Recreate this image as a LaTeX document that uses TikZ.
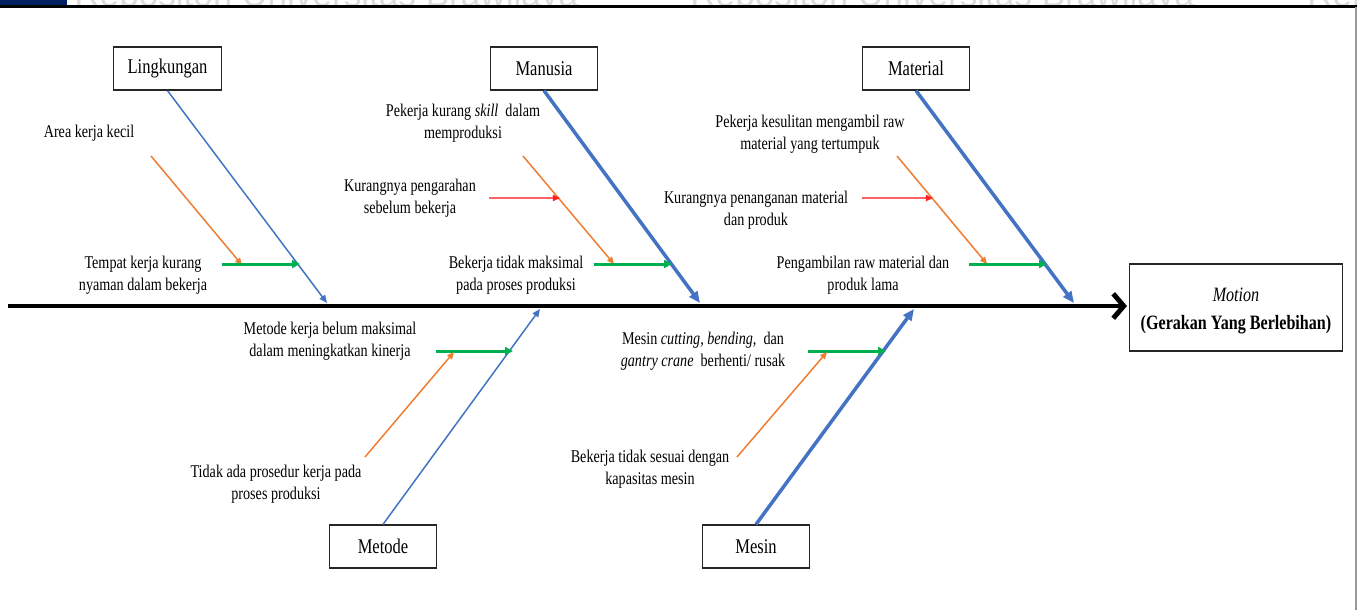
\documentclass[tikz,border=0pt]{standalone}
\usepackage{fontspec}
\setmainfont{Liberation Serif}[FakeStretch=0.79]
\newfontfamily\wmfont{Liberation Sans}
\usetikzlibrary{arrows.meta}
\definecolor{branchblue}{HTML}{4472C4}
\definecolor{causeorange}{HTML}{ED7D31}
\definecolor{subgreen}{HTML}{00B050}
\definecolor{causered}{HTML}{FF2020}
\definecolor{headnavy}{HTML}{002060}
\begin{document}
\begin{tikzpicture}[x=0.02cm,y=-0.02cm,
  catbox/.style={draw=black!85, line width=0.8pt, fill=white, inner sep=0pt,
    minimum width=61.2pt, minimum height=24.4pt, font=\fontsize{11.9}{14}\selectfont},
  effectbox/.style={draw=black!85, line width=0.8pt, fill=white, inner sep=0pt,
    minimum width=121.3pt, minimum height=49.3pt, align=center,
    font=\fontsize{11.6}{16.2}\selectfont},
  lbl/.style={align=center, inner sep=0pt, font=\fontsize{10.2}{12.5}\selectfont},
  spine/.style={line width=2.8pt, -{Straight Barb[length=6pt,width=14pt]}},
  thinbranch/.style={draw=branchblue, line width=0.85pt, -{Triangle[length=4.5pt,width=3.8pt]}},
  thickbranch/.style={draw=branchblue, line width=2pt, -{Triangle[length=6.5pt,width=5.5pt]}},
  orangecause/.style={draw=causeorange, line width=0.85pt, -{Triangle[length=4pt,width=3.5pt]}},
  redcause/.style={draw=causered!70, line width=0.8pt, -{Triangle[length=4pt,width=3.5pt,color=causered]}},
  greencause/.style={draw=subgreen, line width=1.7pt, -{Triangle[length=4.5pt,width=4.5pt]}},
]
\useasboundingbox (0,0) rectangle (1357,610);

% header strip
\begin{scope}
  \clip (0,0) rectangle (1357,5);
  \foreach \wx in {74,690,1307}
    \node[anchor=base west, inner sep=0pt, text=gray!28, font=\wmfont\fontsize{20}{20}\selectfont]
      (wm\wx) at (\wx,6) {Repositori Universitas Brawijaya};
\end{scope}
\fill[headnavy] (0,0) rectangle (67,5);
\fill[black] (0,5) rectangle (1357,7.5);
\draw[gray!80, line width=0.6pt] (1356,7) -- (1356,610);

% category boxes
\node[catbox] (ling) at (167.5,68.5) {Lingkungan};
\node[catbox] (manu) at (544,68.5) {Manusia};
\node[catbox] (mate) at (916,68.5) {Material};
\node[catbox] (meto) at (383,546.5) {Metode};
\node[catbox] (mesi) at (756,546.5) {Mesin};

% effect
\node[effectbox] (eff) at (1236,307.5) {};
\node[align=center, inner sep=0pt, font=\fontsize{11.6}{16.2}\selectfont] (efftext) at (1236,311)
  {\textit{Motion}\\\textbf{(Gerakan Yang Berlebihan)}};

% spine
\coordinate (s0) at (8,306);
\coordinate (s1) at (1127,306);
\draw[spine] (s0) -- (s1);

% branch ends on spine
\coordinate (bL) at (327,303);
\coordinate (bMa) at (700,303);
\coordinate (bMt) at (1074,303);
\coordinate (bMe) at (540,309);
\coordinate (bMs) at (914,309);

\draw[thinbranch] (ling.south) -- (bL);
\draw[thickbranch] (manu.south) -- (bMa);
\draw[thickbranch] (mate.south) -- (bMt);
\draw[thinbranch] (meto.north) -- (bMe);
\draw[thickbranch] (mesi.north) -- (bMs);

% Lingkungan causes
\node[lbl] (l1) at (89,133) {Area kerja kecil};
\node[lbl] (l2) at (143,275) {Tempat kerja kurang\\nyaman dalam bekerja};
\coordinate (l1a) at (151,156); \coordinate (l1b) at (242,265);
\coordinate (l2a) at (222,264); \coordinate (l2b) at (300,264);
\draw[orangecause] (l1a) -- (l1b);
\draw[greencause] (l2a) -- (l2b);

% Manusia causes
\node[lbl] (m1) at (463,123) {Pekerja kurang \textit{skill}\ \ dalam\\memproduksi};
\node[lbl] (m2) at (410,198) {Kurangnya pengarahan\\sebelum bekerja};
\node[lbl] (m3) at (516,275) {Bekerja tidak maksimal\\pada proses produksi};
\coordinate (m1a) at (523,156); \coordinate (m1b) at (614,264);
\coordinate (m2a) at (489,198); \coordinate (m2b) at (560,198);
\coordinate (m3a) at (594,264); \coordinate (m3b) at (672,264);
\draw[orangecause] (m1a) -- (m1b);
\draw[redcause] (m2a) -- (m2b);
\draw[greencause] (m3a) -- (m3b);

% Material causes
\node[lbl] (t1) at (810,134) {Pekerja kesulitan mengambil raw\\material yang tertumpuk};
\node[lbl] (t2) at (756,210) {Kurangnya penanganan material\\dan produk};
\node[lbl] (t3) at (863,275) {Pengambilan raw material dan\\produk lama};
\coordinate (t1a) at (897,156); \coordinate (t1b) at (987,264);
\coordinate (t2a) at (862,198); \coordinate (t2b) at (933,198);
\coordinate (t3a) at (969,264); \coordinate (t3b) at (1047,264);
\draw[orangecause] (t1a) -- (t1b);
\draw[redcause] (t2a) -- (t2b);
\draw[greencause] (t3a) -- (t3b);

% Metode causes
\node[lbl] (e1) at (330,341) {Metode kerja belum maksimal\\dalam meningkatkan kinerja};
\node[lbl] (e2) at (276,484) {Tidak ada prosedur kerja pada\\proses produksi};
\coordinate (e1a) at (436,351); \coordinate (e1b) at (513,351);
\coordinate (e2a) at (365,457); \coordinate (e2b) at (454,352);
\draw[greencause] (e1a) -- (e1b);
\draw[orangecause] (e2a) -- (e2b);

% Mesin causes
\node[lbl] (n1) at (703,351) {Mesin \textit{cutting, bending,}\ \ dan\\\textit{gantry crane}\ \ berhenti/ rusak};
\node[lbl] (n2) at (650,469) {Bekerja tidak sesuai dengan\\kapasitas mesin};
\coordinate (n1a) at (808,351); \coordinate (n1b) at (886,351);
\coordinate (n2a) at (737,457); \coordinate (n2b) at (827,352);
\draw[greencause] (n1a) -- (n1b);
\draw[orangecause] (n2a) -- (n2b);
\end{tikzpicture}
\end{document}
